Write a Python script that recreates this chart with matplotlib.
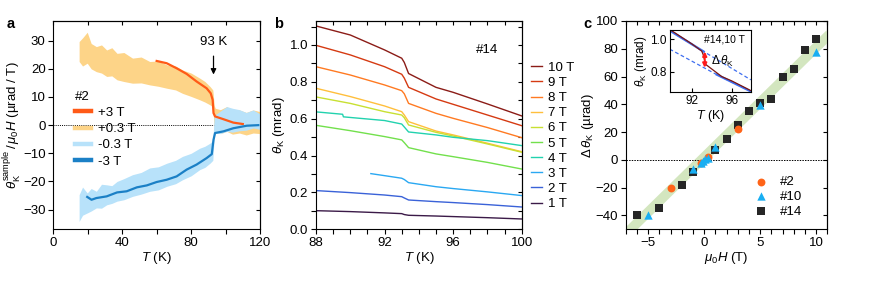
import numpy as np
import matplotlib
matplotlib.use("Agg")
import matplotlib.pyplot as plt
from matplotlib.ticker import MultipleLocator

plt.rcParams["font.family"] = ["Liberation Sans", "DejaVu Sans"]
plt.rcParams["mathtext.fontset"] = "custom"
plt.rcParams["mathtext.it"] = "Liberation Sans:italic"
plt.rcParams["mathtext.rm"] = "Liberation Sans"
plt.rcParams["font.size"] = 9.5

# ---- panel a: sample #2, Kerr angle normalised by field ----
band_T = [15, 17, 19.7, 22, 25, 28, 31, 34, 37, 41, 46, 51, 56, 61, 66, 71, 75, 80,
          85, 88, 91, 92.6, 93.4, 94, 97, 100.7, 104, 108, 112, 116, 120]
p03_hi = [29.7, 31, 33, 29, 27.9, 28.5, 26.7, 27.5, 25.5, 25.8, 23.8, 24.2, 22.6, 22.8,
          21.4, 21, 19.6, 18.5, 16.7, 15.5, 13.7, 12.5, 7, 6, 5.5, 6.6, 5, 5.4, 4.5, 5.4, 4.8]
p03_lo = [22.6, 21, 22, 20, 19, 18.5, 17.3, 17.5, 16.1, 15.5, 14.9, 15, 14.3, 13.8,
          13.1, 12.5, 11.3, 10.2, 9.0, 8.2, 7.2, 6.5, -1, -2.2, -3, -2.2, -3.2, -2.8, -3.5, -2.8, -3]
m03_hi = [-24.7, -22, -24.1, -22.5, -23.5, -21, -21.2, -21.5, -20, -19, -17.6, -16.8,
          -15.2, -14.8, -13.5, -12.5, -11.1, -10, -8.2, -7.5, -6.4, -5.5, 3, 3.7, 5, 6.6, 6, 5.5, 4.5, 5.4, 4]
m03_lo = [-34.2, -32, -31.2, -30.5, -29.4, -29.5, -28.3, -27.8, -27, -26.5, -25.3, -24.5,
          -23.5, -23, -21.7, -20.8, -19.4, -18, -15.8, -15, -13.5, -12.5, -4, -2.8, -3, -2.2, -2.5, -2, -1.8, -1, -1.5]

p3_T = [60, 65.8, 71.6, 77.4, 83.2, 89, 91.4, 92.5, 93, 93.9, 98.8, 104.5, 110]
p3_v = [22.8, 22.0, 20.2, 18.2, 15.5, 13.1, 11.3, 9.0, 4.3, 3.1, 2.1, 0.9, 0.4]
m3_T = [19.7, 22.2, 25, 31, 37, 42.6, 48.5, 54.3, 60, 65.8, 71.6, 77.4, 83.2, 89,
        92, 93, 93.9, 98.8, 104.5, 112.3, 119]
m3_v = [-25.5, -26.5, -25.9, -25.3, -23.9, -23.5, -22.1, -21.4, -20.2, -19.4, -18.2,
        -15.8, -14.0, -11.7, -10.3, -5.2, -2.8, -2.2, -1.1, -0.2, 0.0]

# ---- panel b: sample #14, theta_K(T) at several fields ----
fields = ["10 T", "9 T", "8 T", "7 T", "6 T", "5 T", "4 T", "3 T", "2 T", "1 T"]
field_colors = ["#8b1c17", "#d53a12", "#ff7a22", "#ffbf3c", "#c8e032", "#72e04c",
                "#22d2ae", "#2aa8f2", "#3a62d8", "#3b1a48"]
T_b = [88, 90, 92, 93.0, 93.15, 93.4, 95, 96, 98, 100]
theta_b = [
    [1.103, 1.054, 0.973, 0.928, 0.905, 0.845, 0.770, 0.743, 0.680, 0.615],
    [0.998, 0.946, 0.882, 0.841, 0.820, 0.770, 0.707, 0.678, 0.620, 0.562],
    [0.882, 0.837, 0.783, 0.752, 0.735, 0.683, 0.629, 0.602, 0.552, 0.497],
    [0.765, 0.720, 0.669, 0.638, 0.620, 0.584, 0.533, 0.512, 0.467, 0.421],
    [0.718, 0.683, 0.638, 0.620, 0.605, 0.566, 0.526, 0.506, 0.463, 0.418],
    [0.564, 0.535, 0.503, 0.485, 0.470, 0.443, 0.409, 0.394, 0.363, 0.327],
    [0.637, 0.608, 0.590, 0.571, 0.555, 0.528, 0.512, 0.499, 0.481, 0.454],
    [None, None, 0.291, 0.277, 0.270, 0.253, 0.231, 0.221, 0.203, 0.183],
    [0.210, 0.199, 0.186, 0.177, 0.170, 0.159, 0.150, 0.145, 0.134, 0.121],
    [0.101, 0.096, 0.089, 0.085, 0.080, 0.076, 0.072, 0.069, 0.063, 0.056],
]
T_4T_step = [88, 89.55, 89.6]
theta_4T_step = [0.637, 0.624, 0.610]
T_3T_start = 91.2
theta_3T_start = 0.302

# ---- panel c: step height vs field ----
H_s2 = [-3, -0.3, 0.3, 3]
d_s2 = [-20, -2.6, 2.2, 22.5]
H_s10 = [-5, -1, -0.3, -0.1, 0.1, 0.3, 1, 5, 10]
d_s10 = [-39.5, -6.5, -2, -0.8, 0.5, 1.5, 9.5, 39.5, 78]
H_s14 = [-6, -4, -2, -1, 1, 2, 3, 4, 5, 6, 7, 8, 9, 10]
d_s14 = [-40, -35, -18, -9, 7, 15, 25, 35, 41, 44, 60, 65.5, 79, 87]
fit_H = [-7.2, 11.2]
fit_d = [-55, 90.5]

# inset: #14 at 10 T with the two linear extrapolations
ins_up_T = [89.8, 93.2, 97.9]
ins_up_v = [1.055, 0.925, 0.750]
ins_lo_T = [89.8, 94.5, 97.9]
ins_lo_v = [0.940, 0.782, 0.678]


def mirror_ticks(ax, xmaj, xmin, ymaj, ymin):
    ax.xaxis.set_major_locator(MultipleLocator(xmaj))
    ax.xaxis.set_minor_locator(MultipleLocator(xmin))
    ax.yaxis.set_major_locator(MultipleLocator(ymaj))
    ax.yaxis.set_minor_locator(MultipleLocator(ymin))
    ax.tick_params(which="major", direction="out", length=3.5, width=0.8, pad=2)
    ax.tick_params(which="minor", direction="out", length=3.5, width=0.8)
    top = ax.secondary_xaxis("top")
    right = ax.secondary_yaxis("right")
    for sec, axis in ((top, top.xaxis), (right, right.yaxis)):
        axis.set_major_locator(MultipleLocator(xmin if sec is top else ymin))
        sec.tick_params(which="both", direction="in", length=3, width=0.8)
        sec.tick_params(labeltop=False, labelright=False)
        axis.set_ticklabels([])


fig = plt.figure(figsize=(8.72, 2.84), dpi=100)
ax_a = fig.add_axes([0.0611, 0.1926, 0.2371, 0.7335])
ax_b = fig.add_axes([0.3624, 0.1926, 0.2359, 0.7335])
ax_c = fig.add_axes([0.7176, 0.1926, 0.2312, 0.7335])

# a
ax_a.axhline(0, color="k", ls=(0, (1, 1.2)), lw=0.7, zorder=1)
ax_a.fill_between(band_T, p03_lo, p03_hi, color="#fdd488", lw=0, zorder=2)
ax_a.fill_between(band_T, m03_lo, m03_hi, color="#b8e2fa", lw=0, zorder=2)
ax_a.plot(p3_T, p3_v, color="#ff5a17", lw=1.6, zorder=3)
ax_a.plot(m3_T, m3_v, color="#1b80c6", lw=1.6, zorder=3)
ax_a.set_xlim(0, 120)
ax_a.set_ylim(-37, 37)
mirror_ticks(ax_a, 40, 20, 10, 10)
ax_a.set_xlabel(r"$T$ (K)", labelpad=1)
ax_a.set_ylabel(r"$\theta_{\rm K}^{\rm sample}\,/\,\mu_0H$ (µrad / T)", labelpad=0)
ax_a.annotate("", xy=(93, 17), xytext=(93, 25.5),
              arrowprops=dict(arrowstyle="-|>", color="k", lw=0.9, mutation_scale=8))
ax_a.text(93, 27.5, "93 K", ha="center", va="bottom")
handles = [plt.Line2D([], [], color=c, lw=3.2) for c in
           ("#ff5a17", "#fdd488", "#b8e2fa", "#1b80c6")]
leg = ax_a.legend(handles, ["+3 T", "+0.3 T", "-0.3 T", "-3 T"], title="#2",
                  loc="upper left", bbox_to_anchor=(0.08, 0.69), frameon=False,
                  handlelength=1.2, handletextpad=0.5, labelspacing=0.3,
                  borderaxespad=0, fontsize=9.5, title_fontsize=9.5)
leg._legend_box.align = "left"

# b
for name, col, vals in zip(fields, field_colors, theta_b):
    T = [t for t, v in zip(T_b, vals) if v is not None]
    v = [v for v in vals if v is not None]
    if name == "4 T":
        T = T_4T_step + T[2:]
        v = theta_4T_step + v[2:]
    if name == "3 T":
        T = [T_3T_start] + T
        v = [theta_3T_start] + v
    ax_b.plot(T, v, color=col, lw=1.0, label=name)
ax_b.set_xlim(88, 100)
ax_b.set_ylim(0, 1.13)
mirror_ticks(ax_b, 4, 1, 0.2, 0.1)
ax_b.set_xlabel(r"$T$ (K)", labelpad=1)
ax_b.set_ylabel(r"$\theta_{\rm K}$ (mrad)", labelpad=2)
ax_b.text(98, 0.97, "#14", ha="center", va="center")
ax_b.legend(loc="upper left", bbox_to_anchor=(1.02, 0.83), frameon=False,
            handlelength=0.8, handletextpad=0.5, labelspacing=0.22,
            borderaxespad=0, fontsize=9.5)

# c
ax_c.plot(fit_H, fit_d, color="#d3e6bf", lw=7, solid_capstyle="butt", zorder=1)
ax_c.axhline(0, color="k", ls=(0, (1.5, 1.2)), lw=0.7, zorder=2)
ax_c.scatter(H_s2, d_s2, marker="o", s=32, color="#ff6418", lw=0, zorder=4, label="#2")
ax_c.scatter(H_s10, d_s10, marker="^", s=36, color="#18aef2", lw=0, zorder=4, label="#10")
ax_c.scatter(H_s14, d_s14, marker="s", s=32, color="#262626", lw=0, zorder=3, label="#14")
ax_c.set_xlim(-7, 11)
ax_c.set_ylim(-50, 100)
mirror_ticks(ax_c, 5, 1, 20, 20)
ax_c.set_xlabel(r"$\mu_0H$ (T)", labelpad=1)
ax_c.set_ylabel(r"$\Delta\,\theta_{\rm K}$ (µrad)", labelpad=0)
ax_c.legend(loc="lower right", bbox_to_anchor=(0.9, 0.03), frameon=False,
            handletextpad=0.4, labelspacing=0.2, borderaxespad=0, fontsize=9.5)

ins = fig.add_axes([0.768, 0.677, 0.093, 0.217])
ins.plot(ins_up_T, ins_up_v, color="#3f6ff0", lw=0.9, ls=(0, (3, 2)))
ins.plot(ins_lo_T, ins_lo_v, color="#3f6ff0", lw=0.9, ls=(0, (3, 2)))
ins.plot(ins_up_T[:2], ins_up_v[:2], color="#3f6ff0", lw=1.6)
ins.plot(ins_lo_T[1:], ins_lo_v[1:], color="#3f6ff0", lw=1.6)
ins.plot(T_b, theta_b[0], color="#7a1512", lw=0.9)
ins.annotate("", xy=(93.3, 0.825), xytext=(93.3, 0.925),
             arrowprops=dict(arrowstyle="<|-|>", color="#ff1a1a", lw=1.4,
                             mutation_scale=6, shrinkA=0, shrinkB=0))
ins.text(93.9, 0.865, r"$\Delta\,\theta_{\rm K}$", fontsize=8.5, va="center")
ins.text(95.3, 1.0, "#14,10 T", fontsize=7.5, ha="center", va="center")
ins.set_xlim(89.8, 97.9)
ins.set_ylim(0.676, 1.058)
ins.xaxis.set_major_locator(MultipleLocator(4))
ins.yaxis.set_major_locator(MultipleLocator(0.2))
ins.tick_params(direction="in", length=3, labelsize=8.5, pad=2)
ins.set_xlabel(r"$T$ (K)", fontsize=9, labelpad=1)
ins.set_ylabel(r"$\theta_{\rm K}$ (mrad)", fontsize=8.5, labelpad=1)

for ax in (ax_a, ax_b, ax_c, ins):
    for s in ax.spines.values():
        s.set_linewidth(0.8)

fig.text(0.008, 0.9, "a", fontsize=10.5, fontweight="bold")
fig.text(0.314, 0.9, "b", fontsize=10.5, fontweight="bold")
fig.text(0.669, 0.9, "c", fontsize=10.5, fontweight="bold")

fig.savefig("out.png", dpi=100)
